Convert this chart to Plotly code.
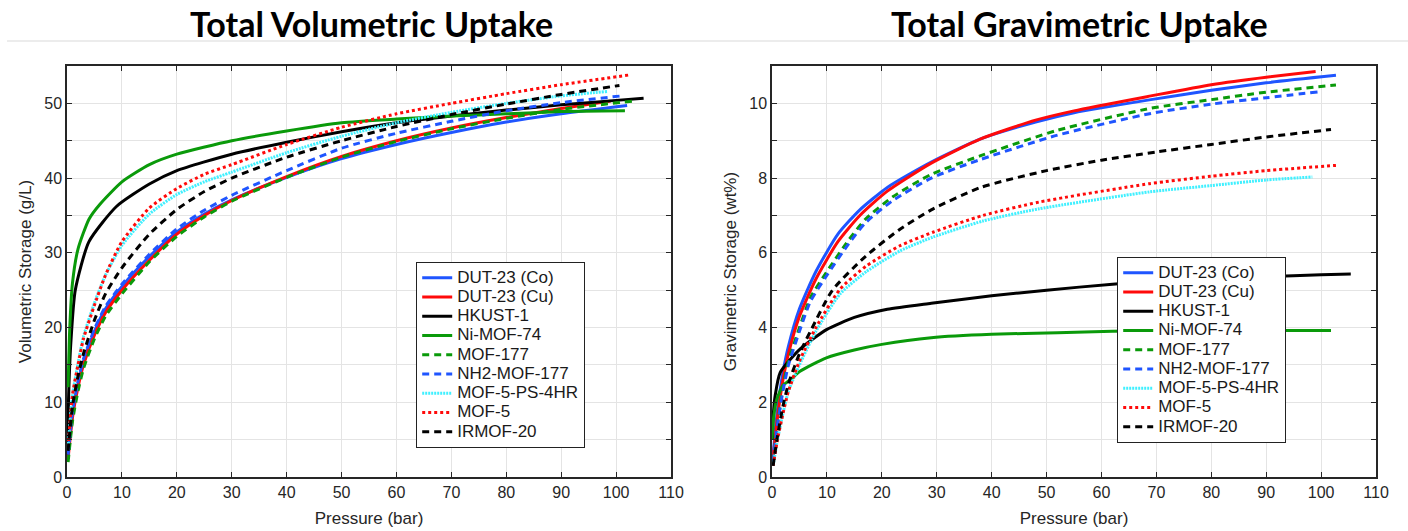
import plotly.graph_objects as go

# ---------------- Data: Total Volumetric Uptake (g/L) ----------------
vol_dut23co_p = [0.2, 1, 2, 3, 5, 7, 10, 15, 20, 25, 30, 40, 50, 60, 70, 80, 90, 102]
vol_dut23co_v = [3.0, 8.5, 12.5, 15.5, 19.5, 22.5, 25.5, 29.5, 32.8, 35.2, 37.1, 40.1, 42.6, 44.5, 46.1, 47.5, 48.6, 49.7]

vol_dut23cu_p = [0.2, 1, 2, 3, 5, 7, 10, 15, 20, 25, 30, 40, 50, 60, 70, 80, 90, 99]
vol_dut23cu_v = [2.5, 8.0, 12.0, 15.0, 19.0, 22.0, 25.0, 29.0, 32.5, 35.0, 37.0, 40.2, 42.9, 45.0, 46.7, 48.1, 49.3, 50.3]

vol_hkust_p = [0.1, 0.3, 0.7, 1.5, 4, 9, 15, 20, 30, 40, 50, 60, 70, 80, 90, 100, 105]
vol_hkust_v = [3.0, 11.0, 18.0, 25.0, 31.5, 36.2, 39.2, 41.0, 43.2, 44.8, 46.2, 47.4, 48.3, 49.1, 49.8, 50.4, 50.7]

vol_nimof74_p = [0.2, 0.5, 1, 2, 4, 6, 10, 15, 20, 30, 40, 50, 60, 70, 80, 90, 101.6]
vol_nimof74_v = [12.0, 20.0, 26.0, 30.5, 34.5, 36.5, 39.5, 41.8, 43.2, 45.0, 46.3, 47.4, 47.9, 48.3, 48.6, 48.9, 49.0]

vol_mof177_p = [0.2, 1, 2, 3, 5, 7, 10, 15, 20, 25, 30, 40, 50, 60, 70, 80, 90, 103]
vol_mof177_v = [2.0, 7.5, 11.5, 14.5, 18.5, 21.5, 24.5, 28.8, 32.2, 34.8, 36.9, 40.1, 42.8, 44.9, 46.6, 48.0, 49.2, 50.3]

vol_nh2mof177_p = [0.2, 1, 2, 3, 5, 7, 10, 15, 20, 25, 30, 40, 50, 60, 70, 80, 90, 101]
vol_nh2mof177_v = [3.0, 8.8, 12.8, 15.8, 19.8, 22.8, 25.8, 29.8, 33.2, 35.7, 37.7, 41.0, 44.0, 46.0, 47.6, 49.0, 50.1, 51.0]

vol_mof5ps_p = [0.2, 1, 2, 3, 5, 7, 10, 15, 20, 25, 30, 40, 50, 60, 70, 80, 90, 98.4]
vol_mof5ps_v = [4.0, 11.0, 15.2, 18.8, 23.3, 27.0, 31.0, 35.2, 37.8, 39.5, 40.8, 43.4, 45.6, 47.4, 48.8, 50.0, 51.0, 51.6]

vol_mof5_p = [0.2, 1, 2, 3, 5, 7, 10, 15, 20, 25, 30, 40, 50, 60, 70, 80, 90, 102.4]
vol_mof5_v = [4.0, 11.0, 15.0, 18.5, 23.0, 27.0, 31.5, 36.0, 38.6, 40.5, 41.8, 44.5, 46.8, 48.6, 50.0, 51.3, 52.5, 53.8]

vol_irmof20_p = [0.2, 1, 2, 3, 5, 7, 10, 15, 20, 25, 30, 40, 50, 60, 70, 80, 90, 100.6]
vol_irmof20_v = [3.5, 9.5, 13.5, 16.5, 21.0, 24.5, 28.0, 32.5, 35.8, 38.2, 40.0, 42.8, 45.0, 46.9, 48.5, 49.9, 51.2, 52.4]

# ---------------- Data: Total Gravimetric Uptake (wt%) ----------------
grav_dut23co_p = [0.2, 1, 2, 3, 5, 8, 12, 16, 21, 29, 38, 48, 55, 69, 80, 90, 102.7]
grav_dut23co_w = [0.6, 1.8, 2.8, 3.5, 4.5, 5.5, 6.5, 7.15, 7.75, 8.43, 9.05, 9.5, 9.75, 10.1, 10.35, 10.55, 10.75]

grav_dut23cu_p = [0.2, 1, 2, 3, 5, 8, 12, 16, 21, 29, 38, 48, 55, 69, 80, 90, 99]
grav_dut23cu_w = [0.5, 1.6, 2.6, 3.3, 4.3, 5.3, 6.3, 7.0, 7.65, 8.4, 9.05, 9.55, 9.8, 10.2, 10.5, 10.7, 10.85]

grav_hkust_p = [0.05, 0.2, 0.6, 1.5, 5, 10, 15, 21, 29, 40, 50, 62, 70, 80, 90, 100, 105.4]
grav_hkust_w = [1.0, 1.6, 2.2, 2.8, 3.41, 3.95, 4.27, 4.49, 4.65, 4.85, 5.0, 5.16, 5.23, 5.3, 5.36, 5.41, 5.43]

grav_nimof74_p = [0, 0.3, 0.85, 2, 3.3, 5.1, 9.9, 15, 20, 29, 40, 52, 62, 70, 80, 90, 101.8]
grav_nimof74_w = [1.0, 1.6, 2.07, 2.45, 2.6, 2.83, 3.19, 3.4, 3.55, 3.73, 3.82, 3.86, 3.9, 3.91, 3.92, 3.92, 3.92]

grav_mof177_p = [0.2, 1, 2, 3, 5, 7, 10, 14, 17, 22, 29, 38, 52, 69, 80, 90, 102.7]
grav_mof177_w = [0.4, 1.4, 2.4, 3.1, 4.0, 4.8, 5.5, 6.35, 6.9, 7.5, 8.1, 8.6, 9.28, 9.87, 10.1, 10.3, 10.49]

grav_nh2mof177_p = [0.2, 1, 2, 3, 5, 7, 10, 14, 17, 22, 29, 38, 52, 69, 80, 90, 99.6]
grav_nh2mof177_w = [0.4, 1.4, 2.3, 3.0, 3.9, 4.7, 5.4, 6.25, 6.8, 7.4, 8.0, 8.5, 9.15, 9.73, 9.98, 10.15, 10.31]

grav_mof5ps_p = [0.2, 1, 2, 3, 5, 8, 12.4, 17.2, 23.3, 29.3, 38.4, 48.7, 68.7, 80, 90, 98.4]
grav_mof5ps_w = [0.3, 1.0, 1.7, 2.3, 3.0, 3.9, 4.9, 5.5, 6.05, 6.42, 6.85, 7.18, 7.63, 7.8, 7.95, 8.03]

grav_mof5_p = [0.2, 1, 2, 3, 5, 8, 12.4, 17.2, 23.3, 29.3, 38.4, 48.7, 68.7, 80, 90, 102.7]
grav_mof5_w = [0.3, 1.0, 1.7, 2.3, 3.1, 4.0, 5.03, 5.65, 6.19, 6.55, 7.0, 7.36, 7.85, 8.05, 8.2, 8.34]

grav_irmof20_p = [0.2, 1, 2, 3, 5, 7, 11, 17, 23, 29, 38, 50, 60, 70, 80, 90, 101.8]
grav_irmof20_w = [0.3, 1.1, 1.9, 2.5, 3.3, 3.9, 5.0, 5.9, 6.6, 7.15, 7.75, 8.2, 8.48, 8.7, 8.9, 9.1, 9.3]

series_names = ["DUT-23 (Co)", "DUT-23 (Cu)", "HKUST-1", "Ni-MOF-74", "MOF-177",
                "NH2-MOF-177", "MOF-5-PS-4HR", "MOF-5", "IRMOF-20"]

# ---------------- Styles ----------------
BLUE = "#1f55ff"
RED = "#ff0a0a"
BLACK = "#000000"
GREEN = "#0a9a0a"
CYAN = "#40f0ff"
styles = [
    dict(color=BLUE, dash="solid"),
    dict(color=RED, dash="solid"),
    dict(color=BLACK, dash="solid"),
    dict(color=GREEN, dash="solid"),
    dict(color=GREEN, dash="7px,5px"),
    dict(color=BLUE, dash="7px,5px"),
    dict(color=CYAN, dash="2px,1px"),
    dict(color=RED, dash="3px,3px"),
    dict(color=BLACK, dash="7px,5px"),
]

vol_data = [
    (vol_dut23co_p, vol_dut23co_v), (vol_dut23cu_p, vol_dut23cu_v), (vol_hkust_p, vol_hkust_v),
    (vol_nimof74_p, vol_nimof74_v), (vol_mof177_p, vol_mof177_v), (vol_nh2mof177_p, vol_nh2mof177_v),
    (vol_mof5ps_p, vol_mof5ps_v), (vol_mof5_p, vol_mof5_v), (vol_irmof20_p, vol_irmof20_v),
]
grav_data = [
    (grav_dut23co_p, grav_dut23co_w), (grav_dut23cu_p, grav_dut23cu_w), (grav_hkust_p, grav_hkust_w),
    (grav_nimof74_p, grav_nimof74_w), (grav_mof177_p, grav_mof177_w), (grav_nh2mof177_p, grav_nh2mof177_w),
    (grav_mof5ps_p, grav_mof5ps_w), (grav_mof5_p, grav_mof5_w), (grav_irmof20_p, grav_irmof20_w),
]

fig = go.Figure()

for legend_id, data, xa, ya in [("legend", vol_data, "x", "y"), ("legend2", grav_data, "x2", "y2")]:
    for i in range(len(series_names)):
        p, v = data[i]
        st = styles[i]
        fig.add_trace(go.Scatter(
            x=p, y=v, mode="lines",
            name='<span style="font-size:17px">' + series_names[i] + '</span>',
            line=dict(color=st["color"], dash=st["dash"], width=3, shape="spline", smoothing=0.6),
            xaxis=xa, yaxis=ya, legend=legend_id, showlegend=True,
        ))

FONT = "Liberation Sans, Arial, sans-serif"
TXT = "#262626"
GRID = "#e4e4e4"

def xaxis_cfg(domain, anchor):
    return dict(domain=domain, anchor=anchor, range=[0, 110], dtick=10, tick0=0, automargin=False,
                showline=True, linecolor=TXT, linewidth=1.5, mirror="allticks",
                ticks="inside", ticklen=5, tickwidth=1.2, tickcolor=TXT,
                showgrid=True, gridcolor=GRID, gridwidth=1, zeroline=False,
                tickfont=dict(family=FONT, size=16, color=TXT),
                title=dict(text="Pressure (bar)", font=dict(family=FONT, size=17, color=TXT), standoff=12))

def yaxis_cfg(domain, anchor, rng, dt, mdt, title):
    return dict(domain=domain, anchor=anchor, range=rng, dtick=dt, tick0=0, automargin=False,
                showline=True, linecolor=TXT, linewidth=1.5, mirror="allticks",
                ticks="inside", ticklen=5, tickwidth=1.2, tickcolor=TXT,
                showgrid=True, gridcolor=GRID, gridwidth=1, zeroline=False,
                minor=dict(dtick=mdt, tick0=0, showgrid=True, gridcolor=GRID, gridwidth=1,
                           ticks="inside", ticklen=5, tickwidth=1.2, tickcolor=TXT),
                tickfont=dict(family=FONT, size=16, color=TXT),
                title=dict(text=title, font=dict(family=FONT, size=17, color=TXT), standoff=8))

ydom = [0.1017, 0.8757]
legend_common = dict(bgcolor="white", bordercolor="#222222", borderwidth=1.2,
                     font=dict(family=FONT, size=12.5, color="#1a1a1a"),
                     xanchor="left", yanchor="top", tracegroupgap=0)

fig.update_layout(
    width=1408, height=531,
    margin=dict(l=0, r=0, t=0, b=0),
    paper_bgcolor="white", plot_bgcolor="white",
    xaxis=xaxis_cfg([0.0476, 0.4766], "y"),
    yaxis=yaxis_cfg(ydom, "x", [0, 55], 10, 5, "Volumetric Storage (g/L)"),
    xaxis2=xaxis_cfg([0.5483, 0.9773], "y2"),
    yaxis2=yaxis_cfg(ydom, "x2", [0, 11], 2, 1, "Gravimetric Storage (wt%)"),
    legend=dict(x=416 / 1408, y=1 - 262 / 531, **legend_common),
    legend2=dict(x=1117 / 1408, y=1 - 257 / 531, **legend_common),
    showlegend=True,
    annotations=[
        dict(text="<b>Total Volumetric Uptake</b>", x=371 / 1408, y=1 - 23 / 531,
             xref="paper", yref="paper", xanchor="center", yanchor="middle", showarrow=False,
             font=dict(family="Lato", size=34, color="black")),
        dict(text="<b>Total Gravimetric Uptake</b>", x=1079 / 1408, y=1 - 23 / 531,
             xref="paper", yref="paper", xanchor="center", yanchor="middle", showarrow=False,
             font=dict(family="Lato", size=34, color="black")),
    ],
    shapes=[
        dict(type="line", xref="paper", yref="paper", x0=0.005, x1=1.0,
             y0=1 - 41 / 531, y1=1 - 41 / 531, line=dict(color="#d9d9d9", width=1)),
    ],
)

fig.write_html("out.html", config={"displayModeBar": False},
               post_script="document.body.style.margin='0px';document.body.style.overflow='hidden';")
